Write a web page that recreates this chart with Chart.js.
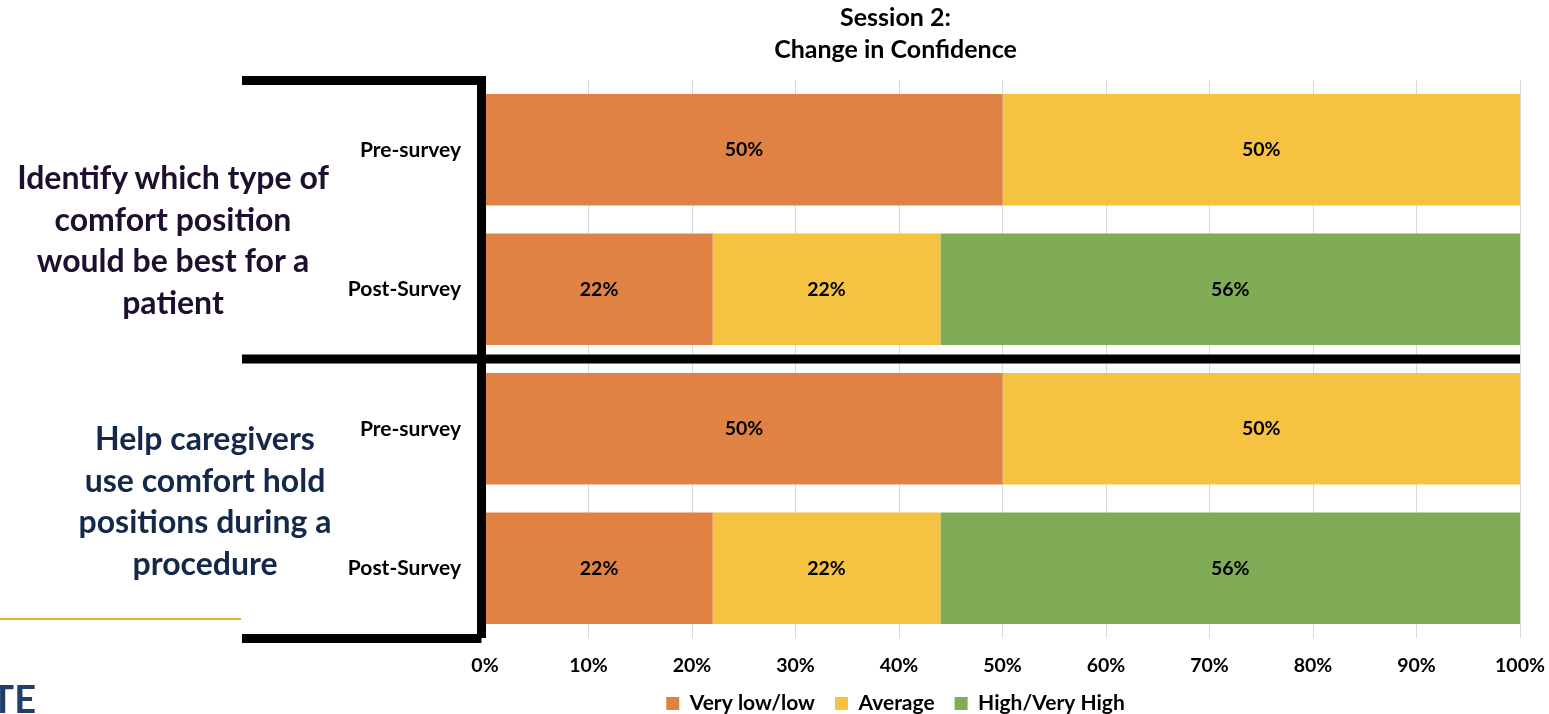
<!DOCTYPE html>
<html>
<head>
<meta charset="utf-8">
<title>Session 2: Change in Confidence</title>
<script src="https://cdn.jsdelivr.net/npm/chart.js@4.4.0/dist/chart.umd.min.js"></script>
<style>
  html, body { margin: 0; padding: 0; background: #fff; }
  body { width: 1549px; height: 714px; position: relative; overflow: hidden; font-family: Lato, "Open Sans", sans-serif; }
  #wrap { position: absolute; left: 0; top: 0; width: 1549px; height: 724px; }
  .topic { position: absolute; text-align: center; font-weight: bold; font-size: 32px; line-height: 41.5px; }
  #topic1 { left: 0; top: 156px; width: 346px; color: #1e0f2e; }
  #topic2 { left: 40px; top: 417px; width: 330px; color: #14294a; }
  #goldline { position: absolute; left: 0; top: 618px; width: 241px; height: 2px; background: #e0b035; }
  #logo { position: absolute; right: 1513px; top: 678px; font-weight: bold; font-size: 38px; line-height: 40px; color: #1f3e6d; white-space: nowrap; }
</style>
</head>
<body>
<!-- canvas runs a little past the window so the legend sits low -->
<div id="wrap"><canvas id="chart" width="1549" height="724"></canvas></div>
<div class="topic" id="topic1">Identify which type of<br>comfort position<br>would be best for a<br>patient</div>
<div class="topic" id="topic2">Help caregivers<br>use comfort hold<br>positions during a<br>procedure</div>
<div id="goldline"></div>
<div id="logo">TE</div>
<script>
// survey rows, top to bottom
var surveyLabels = ['Pre-survey', 'Post-Survey', 'Pre-survey', 'Post-Survey'];
var veryLowLow = [50, 22, 50, 22];
var average = [50, 22, 50, 22];
var highVeryHigh = [0, 56, 0, 56];
var seriesNames = ['Very low/low', 'Average', 'High/Very High'];
var seriesColors = ['#e08244', '#f5c242', '#80ac58'];
var xTicks = [0, 10, 20, 30, 40, 50, 60, 70, 80, 90, 100];

var fontFamily = 'Lato, "Open Sans", sans-serif';

// percentage text in the middle of every segment
var barValues = {
    id: 'barValues',
    afterDatasetsDraw: function(chart) {
        var ctx = chart.ctx;
        ctx.save();
        ctx.font = 'bold 19.5px ' + fontFamily;
        ctx.fillStyle = '#000';
        ctx.textAlign = 'center';
        ctx.textBaseline = 'middle';
        chart.data.datasets.forEach(function(ds, i) {
            var meta = chart.getDatasetMeta(i);
            meta.data.forEach(function(bar, j) {
                var v = ds.data[j];
                if (!v) return;
                ctx.fillText(v + '%', (bar.x + bar.base) / 2, bar.y);
            });
        });
        ctx.restore();
    }
};

// black bracket round the labels and the line between the two questions
var brackets = {
    id: 'brackets',
    afterDraw: function(chart) {
        var ctx = chart.ctx;
        var area = chart.chartArea;
        var y = chart.scales.y;
        var left = 242;
        var vx = area.left - 3.5;
        var mid = (y.getPixelForValue(1) + y.getPixelForValue(2)) / 2;
        ctx.save();
        ctx.fillStyle = '#000';
        ctx.fillRect(left, area.top - 4, vx + 4.5 - left, 9);
        ctx.fillRect(vx - 4.5, area.top - 4, 9, area.bottom - area.top + 4);
        ctx.fillRect(left, area.bottom - 4, vx - left, 9);
        ctx.fillRect(left, mid - 4.5, area.right - left, 9);
        ctx.restore();
    }
};

new Chart(document.getElementById('chart'), {
    type: 'bar',
    data: {
        labels: surveyLabels,
        datasets: [
            { label: seriesNames[0], data: veryLowLow, backgroundColor: seriesColors[0] },
            { label: seriesNames[1], data: average, backgroundColor: seriesColors[1] },
            { label: seriesNames[2], data: highVeryHigh, backgroundColor: seriesColors[2] }
        ]
    },
    options: {
        indexAxis: 'y',
        responsive: false,
        animation: false,
        categoryPercentage: 1,
        barPercentage: 0.8,
        layout: { padding: { left: 242, right: 0, top: 1, bottom: 0 } },
        scales: {
            x: {
                stacked: true,
                min: 0,
                max: 100,
                afterBuildTicks: function(scale) {
                    scale.ticks = xTicks.map(function(v) { return { value: v }; });
                },
                afterFit: function(scale) {
                    scale.height = 35;
                    scale.paddingLeft = 0;
                    scale.paddingRight = 29;
                },
                grid: { color: '#d9d9d9', drawTicks: false },
                border: { display: false },
                ticks: {
                    padding: 16,
                    color: '#000',
                    font: { family: fontFamily, size: 19.5, weight: 'bold' },
                    callback: function(v) { return v + '%'; }
                }
            },
            y: {
                stacked: true,
                grid: { display: false, drawTicks: false },
                border: { display: false },
                afterFit: function(scale) { scale.width = 243; },
                ticks: {
                    padding: 24,
                    color: '#000',
                    font: { family: fontFamily, size: 21, weight: 'bold' }
                }
            }
        },
        plugins: {
            title: {
                display: true,
                text: ['Session 2:', 'Change in Confidence'],
                color: '#000',
                font: { family: fontFamily, size: 25, weight: 'bold', lineHeight: 1.28 },
                padding: { top: 1, bottom: 14 }
            },
            legend: {
                position: 'bottom',
                labels: {
                    color: '#000',
                    boxWidth: 13,
                    boxHeight: 13,
                    padding: 20,
                    font: { family: fontFamily, size: 21, weight: 'bold' }
                }
            },
            tooltip: { enabled: false }
        }
    },
    plugins: [barValues, brackets]
});
</script>
</body>
</html>
